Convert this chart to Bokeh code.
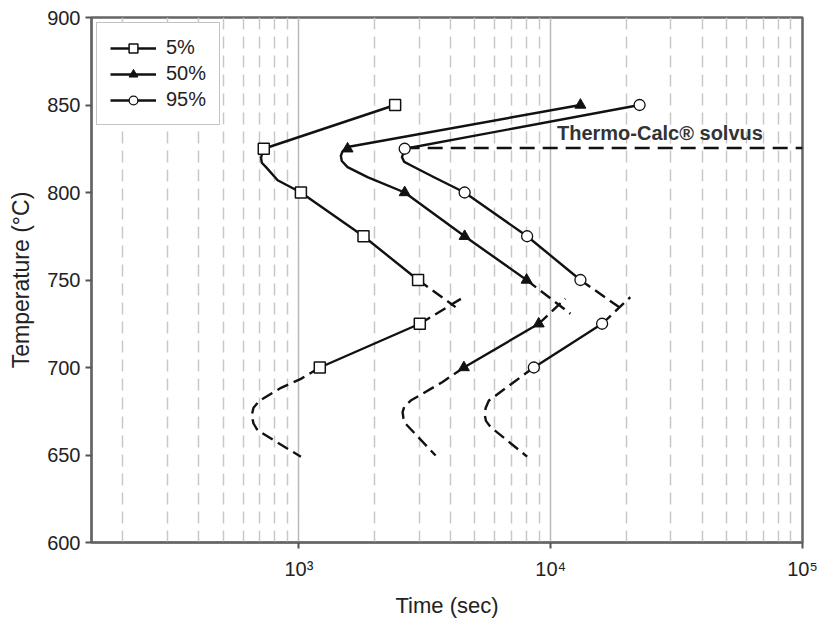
from bokeh.plotting import figure
from bokeh.models import FixedTicker, Legend, LegendItem, Label
from bokeh.embed import file_html
from bokeh.resources import INLINE

# ---- data ----
temps = [850, 825, 800, 775, 750, 725, 700]
t5 = [2410, 725, 1018, 1805, 2973, 3020, 1210]
t50 = [13120, 1560, 2630, 4550, 8020, 8960, 4520]
t95 = [22540, 2630, 4550, 8060, 13120, 16000, 8570]

# traced curves (time, temperature)
c5_upper_t = [2410, 725, 707, 712, 740, 823, 1018, 1805, 2973]
c5_upper_T = [850, 825, 820, 817, 814.5, 807, 800, 775, 750]
c5_upper_ext_t = [2973, 4190]
c5_upper_ext_T = [750, 734.5]
c5_lower_ext_t = [3020, 4510]
c5_lower_ext_T = [725, 740.2]
c5_lower_t = [3020, 1210]
c5_lower_T = [725, 700]
c5_tail_t = [1210, 1018, 849, 697, 660, 649, 660, 686, 1018]
c5_tail_T = [700, 693.5, 688.4, 681, 677, 672.6, 668, 664, 649]

c50_upper_t = [13120, 1560, 1490, 1467, 1480, 1560, 1872, 2630, 4550, 8020]
c50_upper_T = [850, 826, 823.5, 821, 818, 814.5, 808.8, 800, 775, 750]
c50_upper_ext_t = [8020, 11970]
c50_upper_ext_T = [750, 730.7]
c50_lower_ext_t = [8960, 11430]
c50_lower_ext_T = [725, 739.3]
c50_lower_t = [8960, 4520]
c50_lower_T = [725, 700]
c50_tail_t = [4520, 3707, 2780, 2620, 2580, 2600, 2655, 3490]
c50_tail_T = [700, 691.6, 681.1, 677.5, 674.5, 671, 667.8, 649.7]

c95_upper_t = [22540, 2630, 2566, 2620, 2790, 3440, 4550, 8060, 13120]
c95_upper_T = [850, 825, 820.2, 817.5, 815.4, 808.7, 800, 775, 750]
c95_upper_ext_t = [13120, 19500]
c95_upper_ext_T = [750, 732.6]
c95_lower_ext_t = [16000, 20700]
c95_lower_ext_T = [725, 740.2]
c95_lower_t = [16000, 8570]
c95_lower_T = [725, 700]
c95_tail_t = [8570, 7130, 5680, 5520, 5460, 5530, 5770, 8060]
c95_tail_T = [700, 691.6, 681.1, 677, 673.5, 669.5, 666, 649.1]

solvus_t = [2630, 100000]
solvus_T = [825.5, 825.5]
solvus_label = "Thermo-Calc® solvus"
solvus_label_pos = (10590, 834)

series_labels = ["5%", "50%", "95%"]

xtick_vals = [1000, 10000, 100000]
xtick_labels = ["10³", "10⁴", "10⁵"]
xminor_vals = [200, 300, 400, 500, 600, 700, 800, 900,
               2000, 3000, 4000, 5000, 6000, 7000, 8000, 9000,
               20000, 30000, 40000, 50000, 60000, 70000, 80000, 90000]
xgrid_major_vals = [1000, 10000]
ytick_vals = [600, 650, 700, 750, 800, 850, 900]

# ---- figure ----
FONT = "Liberation Sans"
TXT = "#222222"
p = figure(x_axis_type="log", x_range=(150, 100000), y_range=(600, 900),
           frame_width=711, frame_height=525,
           min_border_left=91, min_border_right=20, min_border_top=17, min_border_bottom=81,
           output_backend="svg", toolbar_location=None)
p.background_fill_color = "white"
p.border_fill_color = "white"
p.outline_line_color = "#666666"
p.outline_line_width = 2.5

# grid
p.xgrid.ticker = FixedTicker(ticks=xgrid_major_vals, minor_ticks=xminor_vals)
p.xgrid.grid_line_color = "#b8b8b8"
p.xgrid.grid_line_width = 1.5
p.xgrid.minor_grid_line_color = "#c8c8c8"
p.xgrid.minor_grid_line_width = 1.5
p.xgrid.minor_grid_line_dash = "12 7"
p.ygrid.grid_line_color = None

# axes
p.xaxis.ticker = FixedTicker(ticks=xtick_vals)
p.xaxis.major_label_overrides = dict(zip(xtick_vals, xtick_labels))
p.yaxis.ticker = FixedTicker(ticks=ytick_vals)
for ax in (p.xaxis[0], p.yaxis[0]):
    ax.axis_line_color = "#666666"
    ax.axis_line_width = 2
    ax.major_tick_line_color = "#555555"
    ax.major_tick_line_width = 2
    ax.major_tick_in = 0
    ax.major_tick_out = 6
    ax.minor_tick_line_color = None
    ax.major_label_text_font = FONT
    ax.major_label_text_font_size = "20px"
    ax.major_label_text_color = TXT
    ax.axis_label_text_font = FONT
    ax.axis_label_text_font_style = "normal"
    ax.axis_label_text_color = TXT
p.xaxis.major_label_standoff = 9
p.yaxis.major_label_standoff = 5
p.xaxis.axis_label = "Time (sec)"
p.yaxis.axis_label = "Temperature (°C)"
p.xaxis.axis_label_text_font_size = "22px"
p.yaxis.axis_label_text_font_size = "23px"
p.xaxis.axis_label_standoff = 10
p.yaxis.axis_label_standoff = 10

LW = 2.4
DASH = "12 6"
K = "#111111"

def curves(ut, uT, uet, ueT, let, leT, lt, lT, tt, tT):
    r = p.line(ut, uT, line_color=K, line_width=LW, line_join="round")
    p.line(uet, ueT, line_color=K, line_width=LW, line_dash=DASH)
    p.line(let, leT, line_color=K, line_width=LW, line_dash=DASH)
    p.line(lt, lT, line_color=K, line_width=LW)
    p.line(tt, tT, line_color=K, line_width=LW, line_dash=DASH, line_join="round")
    return r

l5 = curves(c5_upper_t, c5_upper_T, c5_upper_ext_t, c5_upper_ext_T, c5_lower_ext_t, c5_lower_ext_T,
            c5_lower_t, c5_lower_T, c5_tail_t, c5_tail_T)
l50 = curves(c50_upper_t, c50_upper_T, c50_upper_ext_t, c50_upper_ext_T, c50_lower_ext_t, c50_lower_ext_T,
             c50_lower_t, c50_lower_T, c50_tail_t, c50_tail_T)
l95 = curves(c95_upper_t, c95_upper_T, c95_upper_ext_t, c95_upper_ext_T, c95_lower_ext_t, c95_lower_ext_T,
             c95_lower_t, c95_lower_T, c95_tail_t, c95_tail_T)

p.line(solvus_t, solvus_T, line_color=K, line_width=2.5, line_dash="15 8")

m5 = p.scatter(t5, temps, marker="square", size=11, fill_color="white", line_color=K, line_width=1.5)
m50 = p.scatter(t50, temps, marker="triangle", size=11, fill_color=K, line_color=K, line_width=1)
m95 = p.scatter(t95, temps, marker="circle", size=11, fill_color="white", line_color=K, line_width=1.3)

p.add_layout(Label(x=solvus_label_pos[0], y=solvus_label_pos[1], text=solvus_label,
                   text_font=FONT, text_font_size="20px", text_font_style="bold",
                   text_color="#333333", text_baseline="middle", text_align="left"))

legend = Legend(items=[LegendItem(label=series_labels[0], renderers=[l5, m5]),
                       LegendItem(label=series_labels[1], renderers=[l50, m50]),
                       LegendItem(label=series_labels[2], renderers=[l95, m95])],
                location="top_left")
legend.margin = 5
legend.padding = 13
legend.spacing = 3
legend.glyph_width = 46
legend.glyph_height = 22
legend.label_standoff = 10
legend.label_text_font = FONT
legend.label_text_font_size = "20px"
legend.label_text_color = TXT
legend.border_line_color = "#888888"
legend.border_line_width = 1.2
legend.background_fill_alpha = 1
p.add_layout(legend)

open("out.html", "w").write(file_html(p, INLINE))
